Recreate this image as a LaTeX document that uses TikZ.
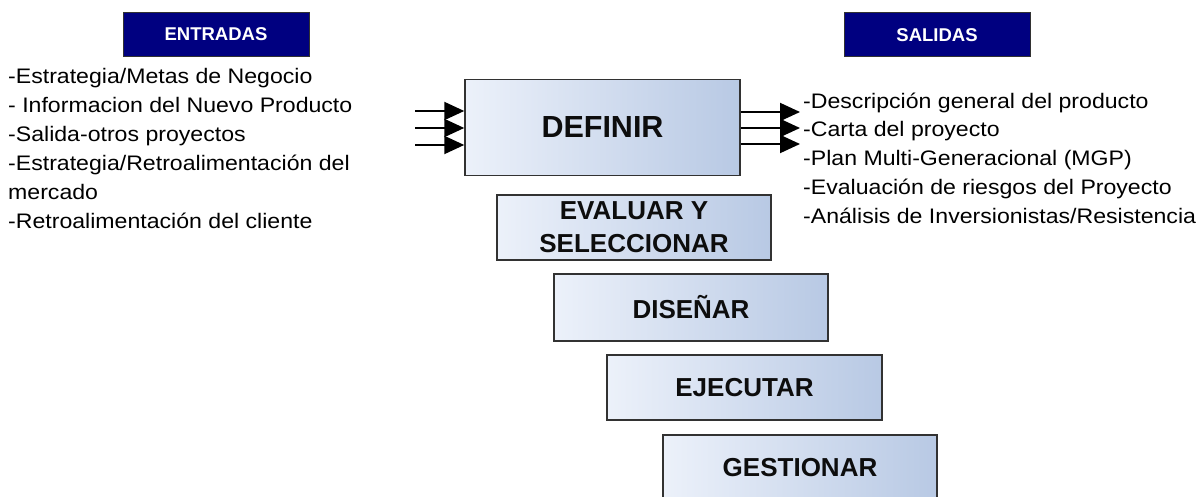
\documentclass[tikz,border=0pt]{standalone}
\usepackage{fontspec}
\setmainfont{Liberation Sans}
\newfontfamily\bodyfont{Liberation Sans}[FakeStretch=1.10]
\usepackage{xcolor}
\usetikzlibrary{arrows.meta}

\definecolor{navybox}{RGB}{0,0,128}
\definecolor{phaseleft}{RGB}{236,241,250}
\definecolor{phaseright}{RGB}{184,201,228}
\definecolor{edgegray}{RGB}{50,50,50}

\begin{document}
\begin{tikzpicture}[x=1pt,y=-1pt,
  header/.style={draw=edgegray,line width=1pt,fill=navybox,text=white,
    font=\bfseries\fontsize{18.5}{21}\selectfont,minimum width=186pt,minimum height=44pt,inner sep=0pt},
  phase/.style={draw=edgegray,line width=1.5pt,left color=phaseleft,right color=phaseright,
    text=black!95,font=\bfseries\fontsize{26}{31}\selectfont,align=center,
    minimum width=274pt,minimum height=65pt,inner sep=0pt},
  item/.style={anchor=base west,inner sep=0pt,font=\bodyfont\fontsize{21}{29}\selectfont},
  flecha/.style={line width=2pt,-{Triangle[length=20pt,width=18pt]}}]
\useasboundingbox (0,0) rectangle (1202,497);

%Headers
\node [header] (entradas) at (216,34.5) {ENTRADAS};
\node [header] (salidas) at (937,35) {SALIDAS};

%Phases
\node [phase,minimum width=275pt,minimum height=96pt,font=\bfseries\fontsize{30.5}{36}\selectfont] (definir) at (602.5,127.5) {DEFINIR};
\node [phase] (evaluar) at (634,227.5) {EVALUAR Y\\[2pt]SELECCIONAR};
\node [phase,minimum height=67pt] (disenar) at (691,307.5) {DISEÑAR};
\node [phase,minimum width=275pt] (ejecutar) at (744.5,387.5) {EJECUTAR};
\node [phase] (gestionar) at (800,467.5) {GESTIONAR};

%Input arrows
\coordinate (in1) at (415,111);
\coordinate (in2) at (415,128);
\coordinate (in3) at (415,145);
\draw [flecha] (in1) -- (in1 -| definir.west);
\draw [flecha] (in2) -- (in2 -| definir.west);
\draw [flecha] (in3) -- (in3 -| definir.west);

%Output arrows
\coordinate (out1) at (800,112);
\coordinate (out2) at (800,128);
\coordinate (out3) at (800,144);
\draw [flecha] (definir.east |- out1) -- (out1);
\draw [flecha] (definir.east |- out2) -- (out2);
\draw [flecha] (definir.east |- out3) -- (out3);

% Text Node
\node [item] (e1) at (8,84) {-Estrategia/Metas de Negocio};
% Text Node
\node [item] (e2) at (8,113) {- Informacion del Nuevo Producto};
% Text Node
\node [item] (e3) at (8,142) {-Salida-otros proyectos};
% Text Node
\node [item] (e4) at (8,171) {-Estrategia/Retroalimentación del};
% Text Node
\node [item] (e5) at (8,200) {mercado};
% Text Node
\node [item] (e6) at (8,229) {-Retroalimentación del cliente};

% Text Node
\node [item] (s1) at (803,109) {-Descripción general del producto};
% Text Node
\node [item] (s2) at (803,137) {-Carta del proyecto};
% Text Node
\node [item] (s3) at (803,166) {-Plan Multi-Generacional (MGP)};
% Text Node
\node [item] (s4) at (803,195) {-Evaluación de riesgos del Proyecto};
% Text Node
\node [item] (s5) at (803,223) {-Análisis de Inversionistas/Resistencia};

\end{tikzpicture}
\end{document}
